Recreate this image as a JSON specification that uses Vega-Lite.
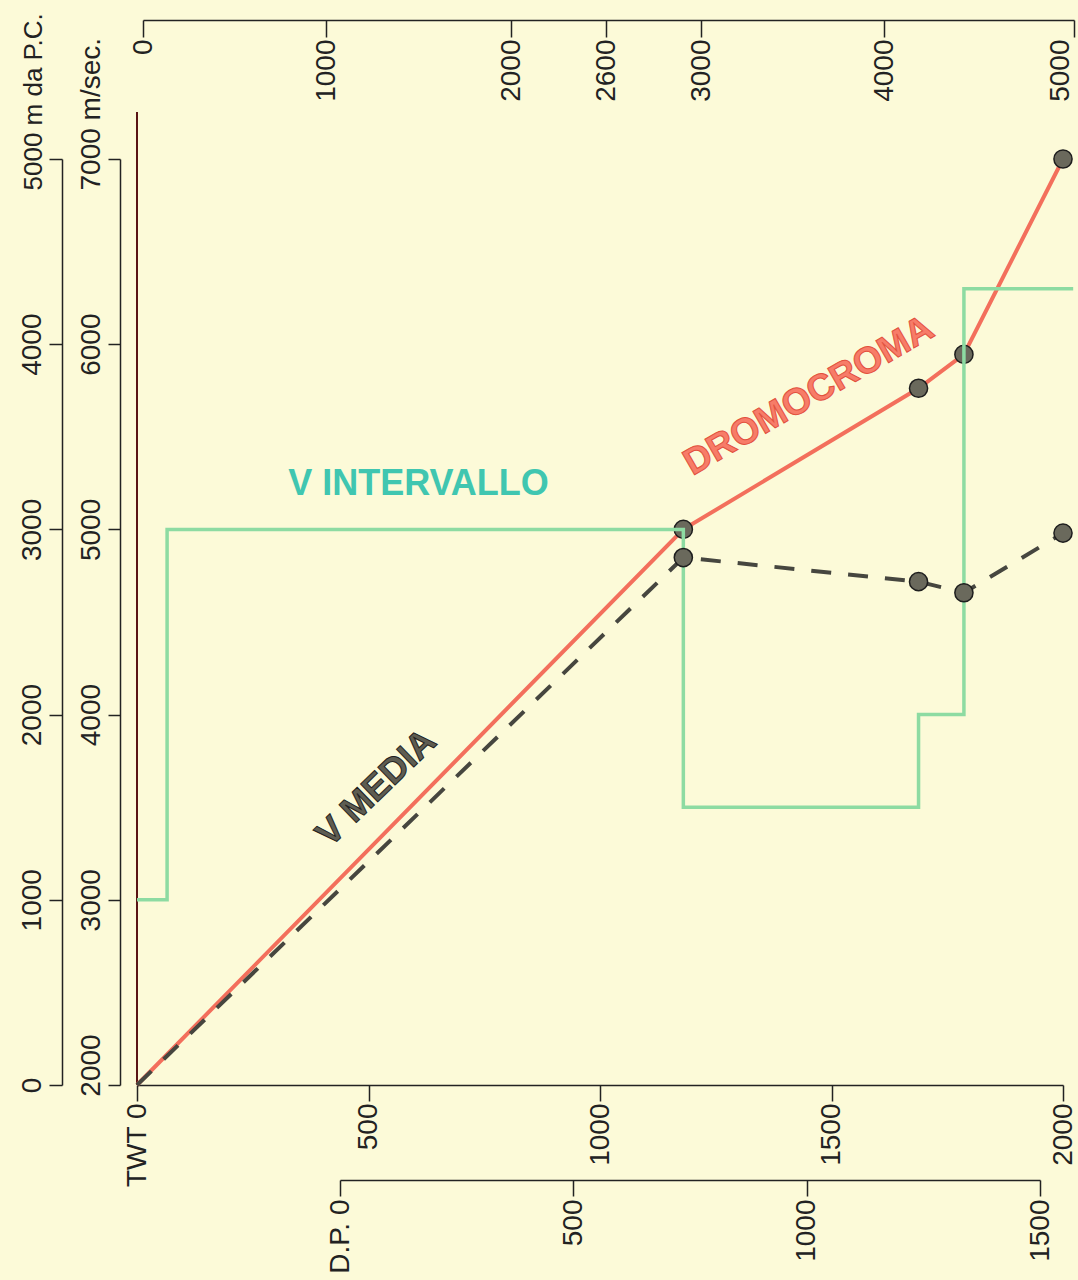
{
  "$schema": "https://vega.github.io/schema/vega-lite/v6.json",
  "width": 926,
  "height": 1065,
  "autosize": {"type": "none"},
  "padding": {"left": 137, "top": 20, "right": 15, "bottom": 195},
  "background": "#fcfad8",
  "config": {
    "view": {"stroke": null},
    "axis": {
      "labelFont": "Liberation Sans",
      "labelFontSize": 28,
      "labelColor": "#222222",
      "domainColor": "#222222",
      "domainWidth": 1.5,
      "tickColor": "#222222",
      "tickWidth": 1.5,
      "grid": false,
      "labelOverlap": false,
      "labelBound": false,
      "labelFlush": false,
      "labelLimit": 0,
      "title": null,
      "format": "d"
    }
  },
  "datasets": {
    "dromo": [
      {"t": 0, "d": 0},
      {"t": 1180, "d": 3000},
      {"t": 1688, "d": 3762},
      {"t": 1786, "d": 3945},
      {"t": 2000, "d": 5000}
    ],
    "vmedia": [
      {"t": 0, "v": 2000},
      {"t": 1180, "v": 4848},
      {"t": 1688, "v": 4718},
      {"t": 1786, "v": 4658},
      {"t": 2000, "v": 4980}
    ],
    "vint": [
      {"t": 0, "v": 3000},
      {"t": 65, "v": 5000},
      {"t": 1180, "v": 3500},
      {"t": 1688, "v": 4000},
      {"t": 1786, "v": 6300},
      {"t": 2022, "v": 6300}
    ]
  },
  "resolve": {"scale": {"x": "independent", "y": "independent"}},
  "layer": [
    {
      "encoding": {
        "x": {
          "field": "t",
          "type": "quantitative",
          "scale": {"domain": [0, 2000], "nice": false, "zero": false},
          "axis": {
            "orient": "bottom",
            "values": [0, 500, 1000, 1500, 2000],
            "labelAngle": -90,
            "tickSize": 16,
            "labelPadding": 2,
            "labelExpr": "datum.value == 0 ? 'TWT 0' : datum.label"
          }
        }
      },
      "resolve": {"scale": {"y": "independent"}},
      "layer": [
        {
          "data": {"name": "dromo"},
          "encoding": {
            "y": {
              "field": "d",
              "type": "quantitative",
              "scale": {"domain": [0, 5000], "range": [1065, 139], "nice": false, "zero": false},
              "axis": {
                "orient": "left",
                "offset": 75,
                "values": [0, 1000, 2000, 3000, 4000, 5000],
                "labelAngle": -90,
                "tickSize": 13,
                "labelPadding": 3,
                "labelBaseline": "bottom",
                "labelFontSize": {"condition": {"test": "datum.value == 5000", "value": 26}, "value": 28},
                "labelAlign": {"condition": {"test": "datum.value == 5000", "value": "left"}, "value": "center"},
                "labelOffset": {"condition": {"test": "datum.value == 5000", "value": 31}, "value": 0},
                "labelExpr": "datum.value == 5000 ? '5000 m da P.C.' : datum.label"
              }
            }
          },
          "layer": [
            {
              "mark": {"type": "rule", "color": "#5a1414", "strokeWidth": 2},
              "encoding": {
                "x": {"datum": 0, "type": "quantitative"},
                "y": {"datum": 0, "type": "quantitative"},
                "y2": {"datum": 5254}
              }
            },
            {
              "mark": {"type": "line", "color": "#f36f5c", "strokeWidth": 4}
            },
            {
              "transform": [{"filter": "datum.t > 0"}],
              "mark": {"type": "point", "filled": true, "fill": "#6a695c", "stroke": "#1e1e1e", "strokeWidth": 1.5, "size": 330, "opacity": 1}
            }
          ]
        },
        {
          "encoding": {
            "y": {
              "field": "v",
              "type": "quantitative",
              "scale": {"domain": [2000, 7000], "range": [1065, 139], "nice": false, "zero": false},
              "axis": {
                "orient": "left",
                "offset": 17,
                "values": [2000, 3000, 4000, 5000, 6000, 7000],
                "labelAngle": -90,
                "tickSize": 12,
                "labelPadding": 3,
                "labelBaseline": "bottom",
                "labelAlign": {"condition": {"test": "datum.value == 7000", "value": "left"}, "value": "center"},
                "labelOffset": {"condition": [{"test": "datum.value == 7000", "value": 31}, {"test": "datum.value == 2000", "value": -20}], "value": 0},
                "labelExpr": "datum.value == 7000 ? '7000 m/sec.' : datum.label"
              }
            }
          },
          "layer": [
            {
              "data": {"name": "vint"},
              "mark": {"type": "line", "interpolate": "step-after", "color": "#8ddba2", "strokeWidth": 3.5}
            },
            {
              "data": {"name": "vmedia"},
              "mark": {"type": "line", "color": "#46463f", "strokeWidth": 4, "strokeDash": [20, 17]}
            },
            {
              "data": {"name": "vmedia"},
              "transform": [{"filter": "datum.t > 0"}],
              "mark": {"type": "point", "filled": true, "fill": "#6a695c", "stroke": "#1e1e1e", "strokeWidth": 1.5, "size": 330, "opacity": 1}
            },
            {
              "data": {"values": [{"t": 608, "v": 5245, "label": "V INTERVALLO"}]},
              "mark": {"type": "text", "font": "Liberation Sans", "fontWeight": "bold", "fontSize": 36, "fill": "#40c6b0", "align": "center", "baseline": "middle"},
              "encoding": {"text": {"field": "label"}}
            },
            {
              "data": {"values": [{"t": 1451, "v": 5720, "label": "DROMOCROMA"}]},
              "mark": {"type": "text", "font": "Liberation Sans", "fontWeight": "bold", "fontSize": 37, "angle": -30, "fill": "#f77c68", "stroke": "#e2503e", "strokeWidth": 1, "align": "center", "baseline": "middle"},
              "encoding": {"text": {"field": "label"}}
            },
            {
              "data": {"values": [{"t": 517, "v": 3604, "label": "V MEDIA"}]},
              "mark": {"type": "text", "font": "Liberation Sans", "fontWeight": "bold", "fontSize": 36, "angle": -44, "fill": "#5e5c51", "stroke": "#1e1e1e", "strokeWidth": 1, "align": "center", "baseline": "middle"},
              "encoding": {"text": {"field": "label"}}
            }
          ]
        }
      ]
    },
    {
      "data": {"values": [{}]},
      "mark": {"type": "rule", "opacity": 0},
      "encoding": {
        "x": {
          "datum": 0,
          "type": "quantitative",
          "scale": {"domain": [0, 1000, 2000, 2600, 3000, 4000, 5000], "range": [6, 189, 374, 469, 564, 747, 937], "nice": false, "zero": false},
          "axis": {
            "orient": "bottom",
            "offset": -1065,
            "values": [0, 1000, 2000, 2600, 3000, 4000, 5000],
            "labelAngle": -90,
            "tickSize": 17,
            "labelPadding": 2,
            "labelBaseline": {"condition": {"test": "datum.value == 5000", "value": "bottom"}, "value": "middle"}
          }
        }
      }
    },
    {
      "data": {"values": [{}]},
      "mark": {"type": "rule", "opacity": 0},
      "encoding": {
        "x": {
          "datum": 0,
          "type": "quantitative",
          "scale": {"domain": [0, 1500], "range": [203, 903], "nice": false, "zero": false},
          "axis": {
            "orient": "bottom",
            "offset": 95,
            "values": [0, 500, 1000, 1500],
            "labelAngle": -90,
            "tickSize": 16,
            "labelPadding": 3,
            "labelExpr": "datum.value == 0 ? 'D.P. 0' : datum.label"
          }
        }
      }
    }
  ]
}
